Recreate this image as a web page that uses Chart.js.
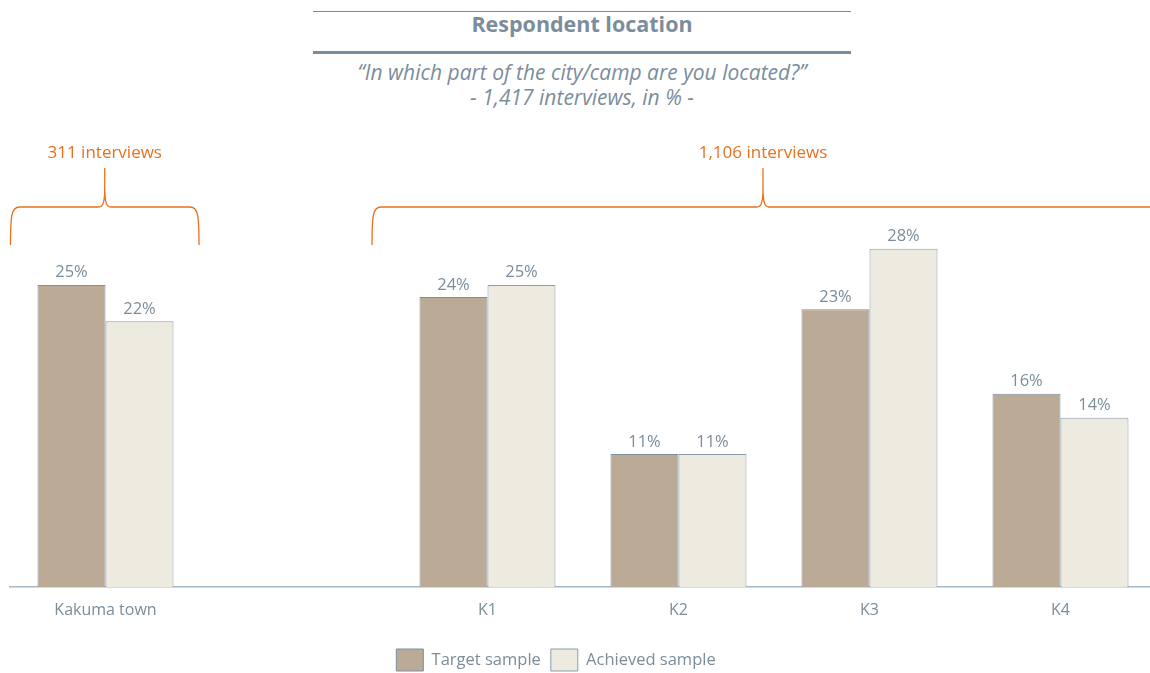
<!DOCTYPE html>
<html>
<head>
<meta charset="utf-8">
<script src="https://cdn.jsdelivr.net/npm/chart.js@4/dist/chart.umd.min.js"></script>
<style>
  html, body { margin: 0; padding: 0; background: #fff; overflow: hidden; }
  #wrap { position: relative; width: 1150px; height: 673px; overflow: hidden; }
  #chart { position: absolute; left: 0; top: 0; }
  .head { position: absolute; left: 283px; width: 598px; text-align: center; color: #7b8d9b; font-family: "Open Sans", sans-serif; white-space: nowrap; }
  #rule1 { position: absolute; left: 313px; top: 11px; width: 538px; height: 1px; background: #7b8d9b; }
  #rule2 { position: absolute; left: 313px; top: 51px; width: 538px; height: 3px; background: #7b8d9b; }
  #title { top: 9px; font-size: 21.5px; font-weight: bold; }
  #sub { top: 60px; font-size: 21px; font-style: italic; line-height: 25px; }
</style>
</head>
<body>
<div id="wrap">
  <div id="rule1"></div>
  <div class="head" id="title">Respondent location</div>
  <div id="rule2"></div>
  <div class="head" id="sub">“In which part of the city/camp are you located?”<br>- 1,417 interviews, in % -</div>
  <canvas id="chart" width="1156" height="673"></canvas>
</div>
<script>
const categories = ["Kakuma town", "", "K1", "K2", "K3", "K4"];
const targetSample = [25, null, 24, 11, 23, 16];
const achievedSample = [22, null, 25, 11, 28, 14];
const groupLabels = ["311 interviews", "1,106 interviews"];
// first and last category index covered by each brace
const groupRanges = [[0, 0], [2, 5]];

const textColor = "#7b8d9b";
const orange = "#e8711e";
const font = "'Open Sans', sans-serif";

// percentage labels above each bar
const valueLabels = {
  id: "valueLabels",
  afterDatasetsDraw(chart) {
    const ctx = chart.ctx;
    ctx.save();
    ctx.fillStyle = textColor;
    ctx.font = "16.5px " + font;
    ctx.textAlign = "center";
    ctx.textBaseline = "bottom";
    chart.data.datasets.forEach((ds, i) => {
      chart.getDatasetMeta(i).data.forEach((bar, j) => {
        if (ds.data[j] == null) return;
        ctx.fillText(ds.data[j] + "%", bar.x, bar.y - 4);
      });
    });
    ctx.restore();
  }
};

// curly braces grouping the categories, with interview counts
const braces = {
  id: "braces",
  afterDraw(chart) {
    const ctx = chart.ctx;
    const x = chart.scales.x;
    const half = (x.getPixelForValue(1) - x.getPixelForValue(0)) / 2;
    const yTop = 207, yLeg = 245, ySpike = 168, r = 9;
    ctx.save();
    ctx.strokeStyle = orange;
    ctx.lineWidth = 1.3;
    groupRanges.forEach((rg, g) => {
      const x0 = x.getPixelForValue(rg[0]) - half + (g === 0 ? 0.5 : -20);
      const x1 = x.getPixelForValue(rg[1]) + half + (g === 0 ? -2 : 10);
      const xm = g === 0 ? (x0 + x1) / 2 : 763;
      ctx.beginPath();
      ctx.moveTo(x0, yLeg);
      ctx.bezierCurveTo(x0, yTop + 8, x0 + 1, yTop, x0 + r, yTop);
      ctx.lineTo(xm - 6, yTop);
      ctx.bezierCurveTo(xm - 2, yTop, xm, yTop - 4, xm, ySpike + 20);
      ctx.lineTo(xm, ySpike);
      ctx.moveTo(xm, ySpike + 20);
      ctx.bezierCurveTo(xm, yTop - 4, xm + 2, yTop, xm + 6, yTop);
      ctx.lineTo(x1 - r, yTop);
      ctx.bezierCurveTo(x1 - 1, yTop, x1, yTop + 8, x1, yLeg);
      ctx.stroke();
      ctx.fillStyle = orange;
      ctx.font = "17px " + font;
      ctx.textAlign = "center";
      ctx.textBaseline = "middle";
      ctx.fillText(groupLabels[g], xm, 153);
    });
    ctx.restore();
  }
};

// the legend sits a little left of the page centre
const legendShift = {
  id: "legendShift",
  afterLayout(chart) {
    chart.legend.left -= 27;
    chart.legend.right -= 27;
  }
};

new Chart(document.getElementById("chart"), {
  type: "bar",
  data: {
    labels: categories,
    datasets: [
      {
        label: "Target sample",
        data: targetSample,
        backgroundColor: "#bbaa96",
        borderColor: "#7d8f9f",
        borderWidth: 1
      },
      {
        label: "Achieved sample",
        data: achievedSample,
        backgroundColor: "#edeae0",
        borderColor: "#8b9cab",
        borderWidth: 1
      }
    ]
  },
  options: {
    responsive: false,
    animation: false,
    layout: { padding: { left: 10, right: 0, top: 140, bottom: -8 } },
    datasets: { bar: { categoryPercentage: 0.712, barPercentage: 1 } },
    scales: {
      x: {
        grid: { display: false, drawTicks: false },
        border: { color: "#a7b8c6", width: 1.5 },
        ticks: { color: textColor, font: { size: 16, family: font }, padding: 14 },
        afterFit(scale) { scale.height = 52; }
      },
      y: {
        display: false,
        min: 0,
        max: 37
      }
    },
    plugins: {
      legend: {
        position: "bottom",
        labels: {
          color: textColor,
          font: { size: 16.5, family: font },
          boxWidth: 27,
          boxHeight: 22,
          padding: 10
        }
      },
      tooltip: { enabled: false }
    }
  },
  plugins: [valueLabels, braces, legendShift]
});
</script>
</body>
</html>
